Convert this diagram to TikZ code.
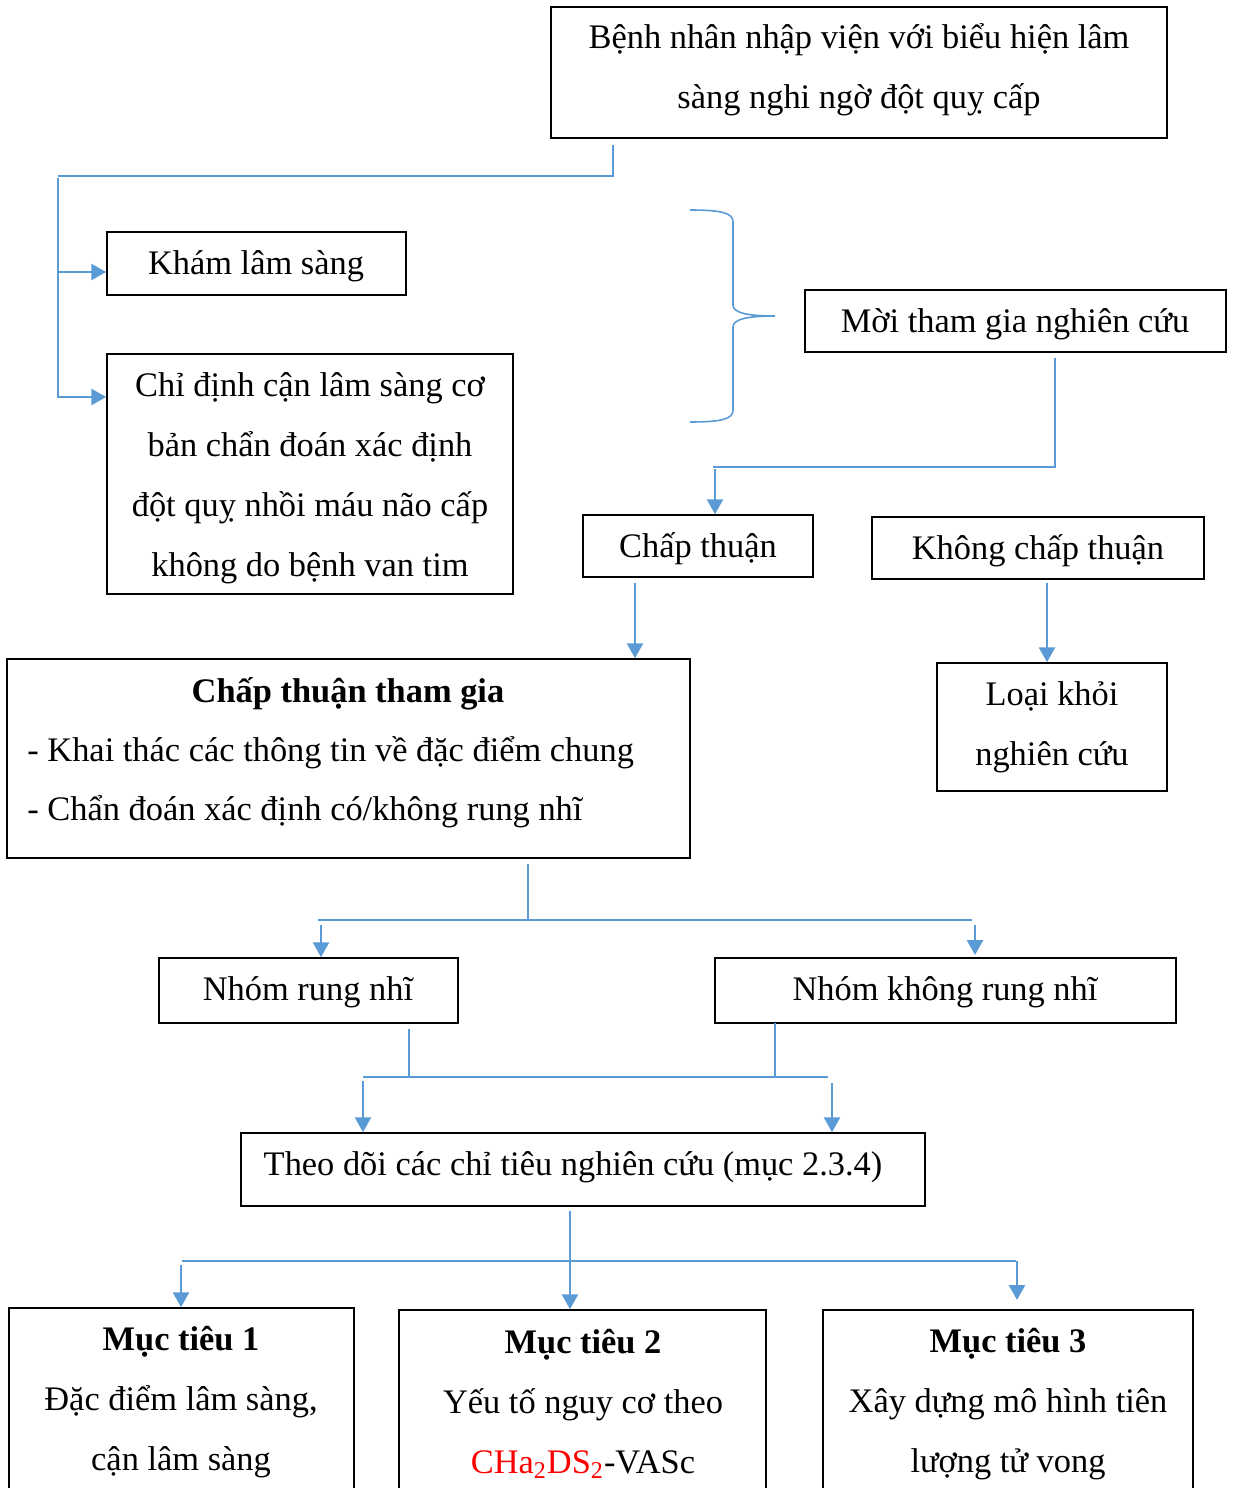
\documentclass[tikz,border=0pt]{standalone}
\usepackage{fontspec}
\setmainfont{Liberation Serif}
\usetikzlibrary{arrows.meta,fit,calc}
\definecolor{conncol}{HTML}{5B9BD5}
\begin{document}
\begin{tikzpicture}[x=0.5pt,y=-0.5pt,
  box/.style={draw=black,line width=0.75pt,inner sep=0pt},
  txt/.style={font=\fontsize{17.2}{30}\selectfont,align=center,inner sep=0pt,yshift=-1.5pt},
  lnk/.style={draw=conncol,line width=0.8pt},
  arr/.style={draw=conncol,line width=1.4pt,-{Triangle[length=7.5pt,width=8pt]}}
]
\clip (0,0) rectangle (1232,1488);
% boxes
\node[box,fit={(551,7) (1167,138)}] (top) {};
\node[box,fit={(107,232) (406,295)}] (kham) {};
\node[box,fit={(107,354) (513,594)}] (chi) {};
\node[box,fit={(805,290) (1226,352)}] (moi) {};
\node[box,fit={(583,515) (813,577)}] (ct) {};
\node[box,fit={(872,517) (1204,579)}] (kct) {};
\node[box,fit={(7,659) (690,858)}] (cttg) {};
\node[box,fit={(937,663) (1167,791)}] (loai) {};
\node[box,fit={(159,958) (458,1023)}] (nrn) {};
\node[box,fit={(715,958) (1176,1023)}] (nkrn) {};
\node[box,fit={(241,1133) (925,1206)}] (theo) {};
\node[box,fit={(9,1308) (354,1510)}] (mt1) {};
\node[box,fit={(399,1310) (766,1510)}] (mt2) {};
\node[box,fit={(823,1310) (1193,1510)}] (mt3) {};
% texts
\node[txt] (top-t) at (859,67) {Bệnh nhân nhập viện với biểu hiện lâm\\sàng nghi ngờ đột quỵ cấp};
\node[txt] (kham-t) at (256,263) {Khám lâm sàng};
\node[txt] (chi-t) at (310,475) {Chỉ định cận lâm sàng cơ\\bản chẩn đoán xác định\\đột quỵ nhồi máu não cấp\\không do bệnh van tim};
\node[txt] (moi-t) at (1015,321) {Mời tham gia nghiên cứu};
\node[txt] (ct-t) at (698,546) {Chấp thuận};
\node[txt] (kct-t) at (1038,548) {Không chấp thuận};
\node[txt,font=\fontsize{17.2}{30}\selectfont\bfseries] (cttg-t) at (348,691) {Chấp thuận tham gia};
\node[txt,anchor=west] (cttg-a) at (27,750) {- Khai thác các thông tin về đặc điểm chung};
\node[txt,anchor=west] (cttg-b) at (27,809) {- Chẩn đoán xác định có/không rung nhĩ};
\node[txt] (loai-t) at (1052,724) {Loại khỏi\\nghiên cứu};
\node[txt] (nrn-t) at (308,989) {Nhóm rung nhĩ};
\node[txt] (nkrn-t) at (945,989) {Nhóm không rung nhĩ};
\node[txt] (theo-t) at (573,1164) {Theo dõi các chỉ tiêu nghiên cứu (mục 2.3.4)};
\node[txt] (mt1-t) at (181,1399) {\textbf{Mục tiêu 1}\\Đặc điểm lâm sàng,\\cận lâm sàng};
\node[txt] (mt2-t) at (583,1401) {\textbf{Mục tiêu 2}\\Yếu tố nguy cơ theo\\\textcolor{red}{CHa\textsubscript{2}DS\textsubscript{2}}-VASc};
\node[txt] (mt3-t) at (1008,1401) {\textbf{Mục tiêu 3}\\Xây dựng mô hình tiên\\lượng tử vong};
% junction coordinates
\coordinate (j1) at (613,145);
\coordinate (j2) at (58,176);
\coordinate (j3) at (58,178);
\coordinate (j4) at (58,398);
\coordinate (k1) at (58,272);
\coordinate (k2) at (58,397);
\coordinate (m1) at (1055,358);
\coordinate (m2) at (1055,467);
\coordinate (m3) at (713,467);
\coordinate (m4) at (715,469);
\coordinate (a1) at (635,583);
\coordinate (a2) at (1047,583);
\coordinate (g1) at (528,864);
\coordinate (g2) at (528,920);
\coordinate (g3) at (318,920);
\coordinate (g4) at (972,920);
\coordinate (g5) at (321,925);
\coordinate (g6) at (975,925);
\coordinate (g7) at (975,955);
\coordinate (h1) at (409,1029);
\coordinate (h2) at (409,1077);
\coordinate (h3) at (775,1023);
\coordinate (h4) at (775,1077);
\coordinate (h5) at (363,1077);
\coordinate (h6) at (828,1077);
\coordinate (h7) at (363,1081);
\coordinate (h8) at (832,1083);
\coordinate (t1) at (570,1211);
\coordinate (t2) at (182,1261);
\coordinate (t3) at (1016,1261);
\coordinate (t4) at (181,1265);
\coordinate (t5) at (1017,1261);
\coordinate (t6) at (1017,1300);
% connectors
\draw[lnk] (j1) |- (j2);
\draw[lnk] (j3) -- (j4);
\draw[arr] (k1) -- (k1 -| kham.west);
\draw[arr] (k2) -- (k2 -| chi.west);
\draw[lnk] (690,210) .. controls (722,210) and (733,213) .. (733,222) -- (733,305)
  .. controls (733,313) and (748,316) .. (775,316)
  .. controls (748,316) and (733,319) .. (733,327) -- (733,410)
  .. controls (733,419) and (722,422) .. (690,422);
\draw[lnk] (m1) |- (m3);
\draw[arr] (m4) -- (m4 |- ct.north);
\draw[arr] (a1) -- (a1 |- cttg.north);
\draw[arr] (a2) -- (a2 |- loai.north);
\draw[lnk] (g1) -- (g2);
\draw[lnk] (g3) -- (g4);
\draw[arr] (g5) -- (g5 |- nrn.north);
\draw[arr] (g6) -- (g7);
\draw[lnk] (h1) -- (h2);
\draw[lnk] (h3) -- (h4);
\draw[lnk] (h5) -- (h6);
\draw[arr] (h7) -- (h7 |- theo.north);
\draw[arr] (h8) -- (h8 |- theo.north);
\draw[arr] (t1) -- (t1 |- mt2.north);
\draw[lnk] (t2) -- (t3);
\draw[arr] (t4) -- (t4 |- mt1.north);
\draw[arr] (t5) -- (t6);
\end{tikzpicture}
\end{document}
